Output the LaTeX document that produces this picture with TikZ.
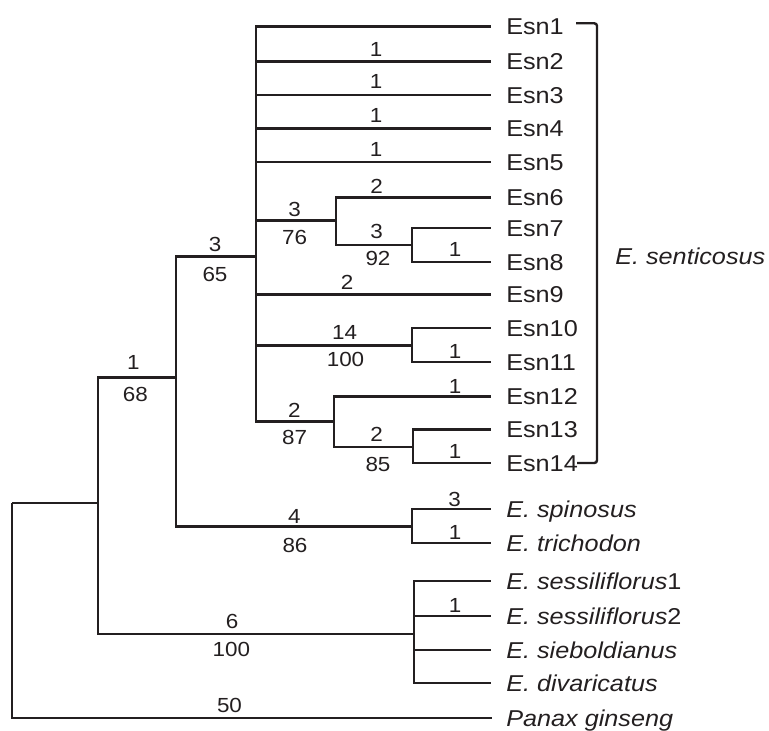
\documentclass[tikz,border=0pt]{standalone}
\usepackage{fontspec}
\newfontfamily\treefont[FakeStretch=1.1]{Liberation Sans}
\definecolor{ink}{HTML}{231F20}
\begin{document}
\begin{tikzpicture}[x=0.75pt,y=-0.75pt,
  br/.style={line width=1.8pt, draw=ink},
  leaf/.style={anchor=west, inner sep=0pt, font=\treefont\fontsize{17.2pt}{18pt}\selectfont, text height=12.3pt, text depth=0pt, text=ink},
  lab/.style={inner sep=0pt, font=\treefont\fontsize{15.3pt}{16pt}\selectfont, text height=10.9pt, text depth=0pt, text=ink}]
\useasboundingbox (0,0) rectangle (769,731);

% internal nodes
\coordinate (R) at (12,503);
\coordinate (A) at (98,503);
\coordinate (B) at (176,377.7);
\coordinate (C) at (256,256.7);
\coordinate (D) at (336,220.7);
\coordinate (E) at (412,245);
\coordinate (F) at (412,345.7);
\coordinate (G) at (334,421.7);
\coordinate (H) at (413,447);
\coordinate (I) at (412,526.7);
\coordinate (S) at (414,634);

% Esn leaves
\foreach \i/\y in {1/26.5,2/61.5,3/95,4/128.5,5/162,6/197.5,7/228,8/262,9/294.5,10/328,11/362,12/396.5,13/429.5,14/463}{
  \coordinate (t\i) at (491,\y);
  \node[leaf] (n\i) at (506,\y) {Esn\i};
}
% other leaves
\coordinate (tsp) at (491,509);
\node[leaf] (nsp) at (506,509) {\itshape E. spinosus};
\coordinate (ttr) at (491,543);
\node[leaf] (ntr) at (506,543) {\itshape E. trichodon};
\coordinate (ts1) at (491,581);
\node[leaf] (ns1) at (506,581) {{\itshape E. sessiliflorus}1};
\coordinate (ts2) at (491,616);
\node[leaf] (ns2) at (506,616) {{\itshape E. sessiliflorus}2};
\coordinate (tsi) at (491,650);
\node[leaf] (nsi) at (506,650) {\itshape E. sieboldianus};
\coordinate (tdi) at (491,683);
\node[leaf] (ndi) at (506,683) {\itshape E. divaricatus};
\coordinate (tpg) at (492,718);
\node[leaf] (npg) at (506,718) {\itshape Panax ginseng};

% branches
\draw[br] (R) |- (A);
\draw[br] (R) |- (tpg);
\draw[br] (A) |- (B);
\draw[br] (A) |- (S);
\draw[br] (B) |- (C);
\draw[br] (B) |- (I);
\foreach \t in {t1,t2,t3,t4,t5,D,t9,F,G}{ \draw[br] (C) |- (\t); }
\draw[br] (D) |- (t6);
\draw[br] (D) |- (E);
\draw[br] (E) |- (t7);
\draw[br] (E) |- (t8);
\draw[br] (F) |- (t10);
\draw[br] (F) |- (t11);
\draw[br] (G) |- (t12);
\draw[br] (G) |- (H);
\draw[br] (H) |- (t13);
\draw[br] (H) |- (t14);
\draw[br] (I) |- (tsp);
\draw[br] (I) |- (ttr);
\foreach \t in {ts1,ts2,tsi,tdi}{ \draw[br] (S) |- (\t); }

% branch labels
\node[lab] (l2) at (376,48.8) {1};
\node[lab] (l3) at (376,81.7) {1};
\node[lab] (l4) at (376,115) {1};
\node[lab] (l5) at (376,149) {1};
\node[lab] (l6) at (376.5,186.7) {2};
\node[lab] (lDa) at (294.7,209.2) {3};
\node[lab] (lDb) at (294.7,237.5) {76};
\node[lab] (lEa) at (376.5,231.7) {3};
\node[lab] (lEb) at (378,258.3) {92};
\node[lab] (l8) at (455,248.8) {1};
\node[lab] (lCa) at (215,244.2) {3};
\node[lab] (lCb) at (215,274.7) {65};
\node[lab] (l9) at (347,282.2) {2};
\node[lab] (lFa) at (344.7,332.5) {14};
\node[lab] (lFb) at (345.5,359) {100};
\node[lab] (l11) at (455,350.8) {1};
\node[lab] (lBa) at (133.3,362.5) {1};
\node[lab] (lBb) at (135.3,394) {68};
\node[lab] (l12) at (455,386.7) {1};
\node[lab] (lGa) at (294.3,410) {2};
\node[lab] (lGb) at (294.7,437.5) {87};
\node[lab] (lHa) at (376.7,434.2) {2};
\node[lab] (lHb) at (378,464.5) {85};
\node[lab] (l14) at (455,450.8) {1};
\node[lab] (lsp) at (454.7,499.7) {3};
\node[lab] (ltr) at (455,532.5) {1};
\node[lab] (lIa) at (294.3,515.8) {4};
\node[lab] (lIb) at (295,544.8) {86};
\node[lab] (ls2) at (455,605) {1};
\node[lab] (lSa) at (232,621.7) {6};
\node[lab] (lSb) at (231.3,649.5) {100};
\node[lab] (lpg) at (229.5,705) {50};

% bracket
\coordinate (bt) at (576,23.3);
\coordinate (bt1) at (597,23.3);
\coordinate (bb1) at (597,463);
\coordinate (bb) at (577,463);
\draw[br, rounded corners=2pt] (bt) -- (bt1) -- (bb1) -- (bb);
\node[leaf] (sent) at (615,256.7) {\itshape E. senticosus};
\end{tikzpicture}
\end{document}
